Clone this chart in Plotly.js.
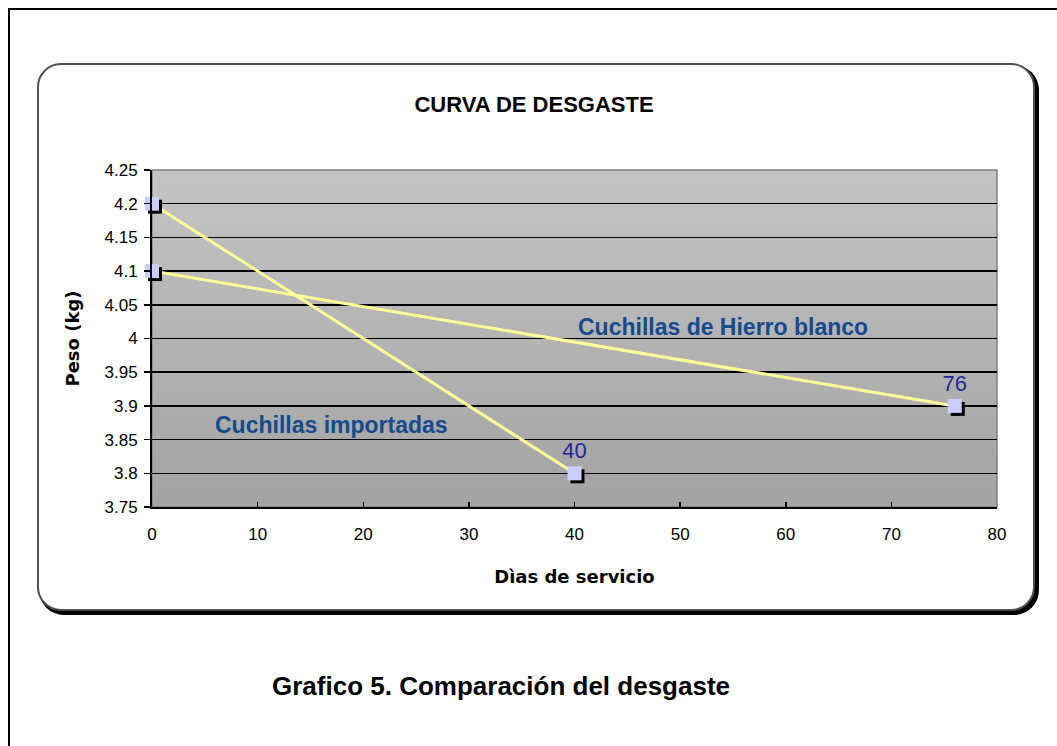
<!DOCTYPE html>
<html>
<head>
<meta charset="utf-8">
<script src="https://cdn.plot.ly/plotly-3.0.1.min.js"></script>
<style>
  html, body { margin: 0; padding: 0; background: #ffffff; }
  #page { position: relative; width: 1057px; height: 746px; overflow: hidden; }
  #frame { position: absolute; left: 8px; top: 8px; width: 1200px; height: 900px;
           border-left: 2px solid #000; border-top: 2px solid #000; box-sizing: border-box; }
  #chartbox { position: absolute; left: 37px; top: 63px; width: 998px; height: 548px;
              box-sizing: border-box; border: 2px solid #505050; border-radius: 24px;
              box-shadow: 3px 3px 0 1px #000; background: #fff; }
  #chart { position: absolute; left: 0; top: 0; width: 1057px; height: 746px; }
</style>
</head>
<body>
<div id="page">
  <div id="frame"></div>
  <div id="chartbox"></div>
  <div id="chart"></div>
</div>
<script>
// Wear curves: blade weight (kg) against days in service
const diasImportadas = [0, 40];
const pesoImportadas = [4.2, 3.8];
const diasHierro = [0, 76];
const pesoHierro = [4.1, 3.9];

const yTickVals = [3.75, 3.8, 3.85, 3.9, 3.95, 4, 4.05, 4.1, 4.15, 4.2, 4.25];
const yTickText = ["3.75", "3.8", "3.85", "3.9", "3.95", "4", "4.05", "4.1", "4.15", "4.2", "4.25"];
const xTickVals = [0, 10, 20, 30, 40, 50, 60, 70, 80];

const xRange = [0, 80];
const yRange = [3.75, 4.25];

// plot area in pixels
const W = 1057, H = 746;
const M = { l: 152, r: 60, t: 170, b: 239 };
const plotW = W - M.l - M.r, plotH = H - M.t - M.b;

// drop-shadow axes: same scale, shifted a few pixels right/down
const shadowPx = 3;
const dx = shadowPx * (xRange[1] - xRange[0]) / plotW;
const dy = shadowPx * (yRange[1] - yRange[0]) / plotH;

const lineColor = '#ffff99';
const markerFill = '#ccccff';
const labelColor = '#26269a';
const seriesTextColor = '#154a8c';
const sans = 'Liberation Sans, Arial, sans-serif';

function lastLabel(days) {
  return days.map((d, i) => i === days.length - 1 ? String(d) : '');
}

const shadowMarker = { symbol: 'square', size: 14, color: '#000000', line: { width: 0 } };
const mainMarker = { symbol: 'square', size: 14, color: markerFill, line: { width: 0 } };
const valueFont = { family: sans, size: 22, color: labelColor };

const traces = [
  // series lines on the main axes
  { name: 'Cuchillas importadas', x: diasImportadas, y: pesoImportadas,
    mode: 'lines', line: { color: lineColor, width: 3 }, hoverinfo: 'skip' },
  { name: 'Cuchillas de Hierro blanco', x: diasHierro, y: pesoHierro,
    mode: 'lines', line: { color: lineColor, width: 3 }, hoverinfo: 'skip' },
  // marker shadows
  { x: diasImportadas, y: pesoImportadas, xaxis: 'x2', yaxis: 'y2', mode: 'markers',
    marker: shadowMarker, cliponaxis: false, hoverinfo: 'skip' },
  { x: diasHierro, y: pesoHierro, xaxis: 'x2', yaxis: 'y2', mode: 'markers',
    marker: shadowMarker, cliponaxis: false, hoverinfo: 'skip' },
  // markers and value labels on top
  { name: 'Cuchillas importadas', x: diasImportadas, y: pesoImportadas, xaxis: 'x3', yaxis: 'y3',
    mode: 'markers+text', marker: mainMarker, cliponaxis: false,
    text: lastLabel(diasImportadas), textposition: 'top center', textfont: valueFont },
  { name: 'Cuchillas de Hierro blanco', x: diasHierro, y: pesoHierro, xaxis: 'x3', yaxis: 'y3',
    mode: 'markers+text', marker: mainMarker, cliponaxis: false,
    text: lastLabel(diasHierro), textposition: 'top center', textfont: valueFont }
];

// vertical grey gradient behind the plot area
const gradSvg = '<svg xmlns="http://www.w3.org/2000/svg" width="10" height="100" preserveAspectRatio="none">' +
  '<defs><linearGradient id="g" x1="0" y1="0" x2="0" y2="1">' +
  '<stop offset="0" stop-color="#c4c4c4"/><stop offset="1" stop-color="#a3a3a3"/>' +
  '</linearGradient></defs><rect width="10" height="100" fill="url(#g)"/></svg>';

const tickFont = { family: sans, size: 17, color: '#000' };
const titleFont = { family: 'DejaVu Sans, Verdana, sans-serif', size: 18, color: '#000', weight: 'bold' };

const layout = {
  width: W, height: H,
  margin: M,
  paper_bgcolor: 'rgba(0,0,0,0)',
  plot_bgcolor: 'rgba(0,0,0,0)',
  showlegend: false,
  title: { text: 'CURVA DE DESGASTE', x: 534 / W, xanchor: 'center', xref: 'container',
           y: 1 - 104 / H, yanchor: 'middle', yref: 'container',
           font: { family: sans, size: 22, weight: 'bold', color: '#000' } },
  xaxis: {
    range: xRange, tickvals: xTickVals, ticks: 'inside', ticklen: 5, tickwidth: 1.5, tickcolor: '#000',
    showline: true, linecolor: '#000', linewidth: 2, showgrid: false, zeroline: false,
    tickfont: tickFont, ticklabelstandoff: 11,
    title: { text: 'Dìas de servicio', font: titleFont, standoff: 27 }
  },
  yaxis: {
    range: yRange, tickvals: yTickVals, ticktext: yTickText, ticks: 'outside', ticklen: 6,
    tickwidth: 1.5, tickcolor: '#000', showline: true, linecolor: '#000', linewidth: 2,
    showgrid: true, gridcolor: '#000', gridwidth: 1.5, zeroline: false,
    tickfont: tickFont, ticklabelstandoff: 3,
    title: { text: 'Peso (kg)', font: titleFont, standoff: 20 }
  },
  xaxis2: { overlaying: 'x', range: [xRange[0] - dx, xRange[1] - dx], visible: false },
  yaxis2: { overlaying: 'y', range: [yRange[0] + dy, yRange[1] + dy], visible: false },
  xaxis3: { overlaying: 'x', range: xRange, visible: false },
  yaxis3: { overlaying: 'y', range: yRange, visible: false },
  images: [{
    source: 'data:image/svg+xml;charset=utf-8,' + encodeURIComponent(gradSvg),
    xref: 'paper', yref: 'paper', x: 0, y: 1, sizex: 1, sizey: 1,
    xanchor: 'left', yanchor: 'top', sizing: 'stretch', layer: 'below'
  }],
  shapes: [{
    type: 'rect', xref: 'paper', yref: 'paper', x0: 0, x1: 1, y0: 0, y1: 1,
    line: { color: '#808080', width: 1.5 }, fillcolor: 'rgba(0,0,0,0)', layer: 'below'
  }],
  annotations: [
    { text: 'Cuchillas de Hierro blanco', showarrow: false,
      font: { family: sans, size: 23, weight: 'bold', color: seriesTextColor } },
    { text: 'Cuchillas importadas', showarrow: false,
      font: { family: sans, size: 23, weight: 'bold', color: seriesTextColor } },
    { text: 'Grafico 5. Comparación del desgaste', showarrow: false,
      font: { family: sans, size: 26, weight: 'bold', color: '#000' } }
  ]
};

// place free-text labels by pixel position within the page
function pxToPaperX(px) { return (px - M.l) / plotW; }
function pxToPaperY(py) { return (H - M.b - py) / plotH; }
const notePos = [[723, 327], [331, 425], [501, 686]];
layout.annotations.forEach((a, i) => {
  a.xref = 'paper'; a.yref = 'paper';
  a.x = pxToPaperX(notePos[i][0]); a.y = pxToPaperY(notePos[i][1]);
  a.xanchor = 'center'; a.yanchor = 'middle';
});

Plotly.newPlot('chart', traces, layout, { displayModeBar: false, staticPlot: true });
</script>
</body>
</html>
